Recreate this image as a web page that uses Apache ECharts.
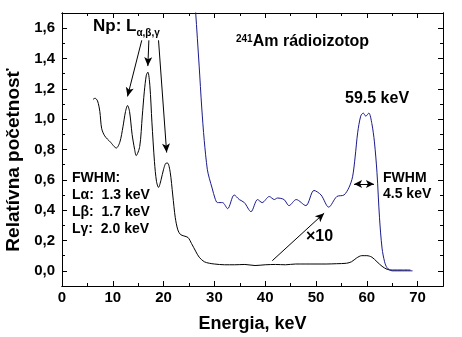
<!DOCTYPE html>
<html><head><meta charset="utf-8">
<script src="https://cdn.jsdelivr.net/npm/echarts@6/dist/echarts.min.js"></script>
<style>html,body{margin:0;padding:0;background:#fff}#c{width:462px;height:337px}</style>
</head><body><div id="c"></div>
<script>
// Raw spectrum (black)
const rawX = [6.1,6.5,7.0,7.45,7.8,8.4,9.5,10.7,11.4,12.0,12.5,12.9,13.3,13.8,14.3,14.6,15.3,15.8,16.2,16.6,16.9,17.3,17.7,18.2,18.6,19.0,19.5,20.0,20.5,20.8,21.3,21.8,22.3,22.8,23.3,24.0,24.8,25.5,26.3,27.0,28.0,29.0,30.0,32.0,34.0,36.0,38.0,40.0,42.0,44.0,46.0,48.0,50.0,52.0,54.0,56.0,57.0,58.0,59.0,60.0,61.0,62.0,63.0,64.0,65.0,67.0,68.6];
const rawY = [1.13,1.138,1.12,1.05,0.94,0.89,0.85,0.81,0.85,0.95,1.05,1.09,1.05,0.90,0.80,0.76,0.82,1.02,1.18,1.29,1.31,1.22,0.98,0.72,0.59,0.55,0.60,0.67,0.71,0.71,0.65,0.50,0.35,0.27,0.24,0.23,0.22,0.18,0.13,0.09,0.06,0.05,0.045,0.04,0.04,0.042,0.035,0.04,0.042,0.04,0.045,0.045,0.045,0.045,0.047,0.05,0.06,0.085,0.10,0.10,0.09,0.06,0.03,0.01,0.005,0.005,0.005];
// Magnified spectrum (x10, blue)
const magX = [25.5,26.3,27.0,27.5,28.0,28.6,29.0,29.6,30.1,30.6,31.6,32.6,33.9,34.9,35.9,37.2,38.5,39.4,40.8,41.8,42.4,43.7,44.7,46.1,48.0,49.6,51.0,52.5,54.1,55.5,56.5,57.2,57.7,58.2,58.8,59.3,59.8,60.4,61.0,61.5,62.0,62.5,63.0,63.5,64.0,65.0,69.0];
const magY = [2.1,1.71,1.35,1.08,0.86,0.67,0.61,0.54,0.48,0.45,0.45,0.41,0.50,0.47,0.45,0.39,0.47,0.45,0.49,0.47,0.48,0.47,0.43,0.47,0.43,0.53,0.50,0.42,0.49,0.50,0.55,0.62,0.75,0.91,1.02,1.04,1.02,1.04,0.97,0.85,0.65,0.35,0.15,0.06,0.02,0.0,0.0];
// Axis ticks
const xMajor = [0,10,20,30,40,50,60,70];
const xMinor = [5,15,25,35,45,55,65,75];
const yMajor = [0,0.2,0.4,0.6,0.8,1.0,1.2,1.4,1.6];
const yMinor = [-0.1,0.1,0.3,0.5,0.7,0.9,1.1,1.3,1.5,1.7];

const FONT = '"Liberation Sans", Arial, sans-serif';
const chart = echarts.init(document.getElementById('c'), null, {renderer:'canvas'});
const zip = (a,b)=>a.map((v,i)=>[v,b[i]]);

function xAx(pos, ticks, len, labels, name){
  return {type:'value', min:0, max:75, position:pos,
    axisLine:{show:true, onZero:false, lineStyle:{color:'#000', width:1}},
    axisTick:{show:true, inside:true, length:len, customValues:ticks, lineStyle:{color:'#000'}},
    axisLabel:{show:labels, customValues:ticks, margin:4, color:'#000', fontFamily:FONT, fontWeight:'bold', fontSize:15},
    splitLine:{show:false},
    name: name||'', nameLocation:'middle', nameGap:29,
    nameTextStyle:{color:'#000', fontFamily:FONT, fontWeight:'bold', fontSize:18}};
}
function yAx(pos, ticks, len, labels){
  return {type:'value', min:-0.1, max:1.7, position:pos,
    axisLine:{show:true, onZero:false, lineStyle:{color:'#000', width:1}},
    axisTick:{show:true, inside:true, length:len, customValues:ticks, lineStyle:{color:'#000'}},
    axisLabel:{show:labels, customValues:ticks, margin:7, color:'#000', fontFamily:FONT, fontWeight:'bold', fontSize:15,
      formatter:v=>v.toFixed(1).replace('.',',')},
    splitLine:{show:false}};
}
const arrowLine = {color:'#000', width:1, type:'solid'};
const option = {
  animation:false,
  backgroundColor:'#fff',
  grid:{left:62, right:19, top:13, bottom:51, containLabel:false, outerBoundsMode:'none'},
  xAxis:[xAx('bottom', xMajor, 5, true, 'Energia, keV'), xAx('bottom', xMinor, 3, false),
         xAx('top', xMajor, 5, false), xAx('top', xMinor, 3, false)],
  yAxis:[yAx('left', yMajor, 5, true), yAx('left', yMinor, 3, false),
         yAx('right', yMajor, 5, false), yAx('right', yMinor, 3, false)],
  series:[
    {type:'line', data:zip(rawX, rawY), smooth:0.3, symbol:'none', clip:true,
     lineStyle:{color:'#000', width:1},
     markLine:{silent:true, symbol:['none','arrow'], symbolSize:[6,9], label:{show:false}, lineStyle:arrowLine,
       emphasis:{disabled:true},
       data:[
        [{coord:[15.7,1.52]},{coord:[12.9,1.15]}],
        [{coord:[17.1,1.52]},{coord:[16.9,1.35]}],
        [{coord:[19.0,1.52]},{coord:[20.6,0.78]}],
        [{coord:[41.4,0.067]},{coord:[51.6,0.38]}]
       ]}},
    {type:'line', data:zip(magX, magY), smooth:0.3, symbol:'none', clip:true,
     lineStyle:{color:'#1a1a8c', width:1},
     markLine:{silent:true, symbol:['arrow','arrow'], symbolSize:[6,8], label:{show:false}, lineStyle:arrowLine,
       emphasis:{disabled:true},
       data:[[{coord:[57.5,0.573]},{coord:[61.4,0.573]}]]}}
  ],
  graphic:[
    {type:'text', x:14, y:160, rotation:Math.PI/2, style:{text:'Relatívna početnosť', align:'center', verticalAlign:'middle',
      fontSize:19, fontWeight:'bold', fontFamily:FONT, fill:'#000'}},
    {type:'text', left:93, top:18, style:{text:'{b|Np: L}{s|α,β,γ}', rich:{
      b:{fontSize:17, fontWeight:'bold', fontFamily:FONT, fill:'#000', verticalAlign:'bottom'},
      s:{fontSize:10, fontWeight:'bold', fontFamily:FONT, fill:'#000', verticalAlign:'bottom', padding:[0,0,-3,0]}}}},
    {type:'text', left:236, top:34, style:{text:'{s|241}{b|Am rádioizotop}', rich:{
      s:{fontSize:10, fontWeight:'bold', fontFamily:FONT, fill:'#000', verticalAlign:'top'},
      b:{fontSize:16, fontWeight:'bold', fontFamily:FONT, fill:'#000', verticalAlign:'top'}}}},
    {type:'text', left:345, top:91, style:{text:'59.5 keV', fontSize:16, fontWeight:'bold', fontFamily:FONT, fill:'#000'}},
    {type:'text', left:72, top:170, style:{text:'FWHM:\nLα:  1.3 keV\nLβ:  1.7 keV\nLγ:  2.0 keV', lineHeight:17,
      fontSize:14, fontWeight:'bold', fontFamily:FONT, fill:'#000'}},
    {type:'text', left:383, top:170, style:{text:'FWHM\n4.5 keV', lineHeight:16,
      fontSize:14, fontWeight:'bold', fontFamily:FONT, fill:'#000'}},
    {type:'text', left:306, top:229, style:{text:'×10', fontSize:16, fontWeight:'bold', fontFamily:FONT, fill:'#000'}}
  ]
};
chart.setOption(option);
</script></body></html>
